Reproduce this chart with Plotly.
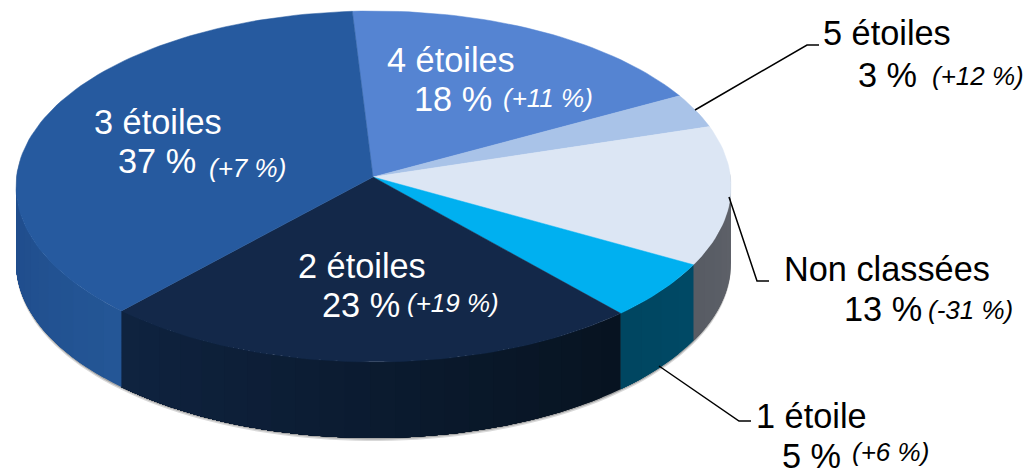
import math
import plotly.graph_objects as go

names = ["4 étoiles", "5 étoiles", "Non classées", "1 étoile", "2 étoiles", "3 étoiles"]
share_labels = ["18 %", "3 %", "13 %", "5 %", "23 %", "37 %"]
shares = [17.3, 3.1, 12.9, 5.5, 24.6, 36.6]
deltas = ["(+11 %)", "(+12 %)", "(-31 %)", "(+6 %)", "(+19 %)", "(+7 %)"]
top_colors = ["#5584d2", "#a9c3e8", "#dce6f4", "#00b0f0", "#132849", "#265a9f"]
side_from = ["#5584d2", "#a9c3e8", "#5f6269", "#004a66", "#071320", "#245696"]
side_to = ["#5584d2", "#a9c3e8", "#575b64", "#004560", "#0f2340", "#1f4c8b"]
text_colors = ["white", "black", "black", "black", "white", "white"]
name_pos = [(387, 60), (823, 33), (784, 269), (756, 416), (298, 266), (94, 122)]
share_pos = [(414, 99), (858, 75), (844, 309), (782, 456), (322, 305), (118, 161)]
delta_pos = [(503, 98), (932, 76), (928, 310), (852, 452), (407, 303), (209, 168)]
leaders = [None,
           [(695, 110), (807, 45), (819, 45)],
           [(729, 197), (757, 281), (769, 281)],
           [(659, 366), (739, 421), (751, 421)],
           None, None]

CX, CY, RX, RY, DEPTH, START = 373.5, 186.5, 357.5, 175.5, 76, -3.4
APEX = (373, 177)


def pt(a, dy=0):
    r = math.radians(a)
    return CX + RX * math.sin(r), CY - RY * math.cos(r) + dy


def mix(c1, c2, t):
    a = [int(c1[i:i + 2], 16) for i in (1, 3, 5)]
    b = [int(c2[i:i + 2], 16) for i in (1, 3, 5)]
    return "#%02x%02x%02x" % tuple(round(p + (q - p) * t) for p, q in zip(a, b))


fig = go.Figure()
total = sum(shares)
spans = []
a = START
for s in shares:
    spans.append((a, a + s / total * 360))
    a += s / total * 360

# soft shadow below the rim
sh = [pt(t) for t in range(85, 280, 2)]
for off, col in [(3, "#d9d9d9"), (1.5, "#a8a8a8")]:
    xs = [p[0] for p in sh] + [p[0] for p in reversed(sh)]
    ys = [p[1] + DEPTH + off for p in sh] + [p[1] for p in reversed(sh)]
    fig.add_trace(go.Scatter(x=xs, y=ys, fill="toself", fillcolor=col, mode="none", hoverinfo="skip"))

# side wall strips: each strip runs to the end of its slice so the next one paints over it, leaving no seams
for i, (a0, a1) in enumerate(spans):
    lo, hi = max(a0, 90), min(a1, 270)
    if hi <= lo:
        continue
    n = max(1, int((hi - lo) / 4))
    for k in range(n):
        t0 = lo + (hi - lo) * k / n
        m = max(2, int((hi - t0) / 2))
        angs = [t0 + (hi - t0) * j / m for j in range(m + 1)]
        up = [pt(t) for t in angs]
        dn = [pt(t, DEPTH) for t in reversed(angs)]
        poly = up + dn
        fig.add_trace(go.Scatter(x=[p[0] for p in poly], y=[p[1] for p in poly], fill="toself",
                                 fillcolor=mix(side_from[i], side_to[i], (k + .5) / n),
                                 mode="none", hoverinfo="skip"))

# top slices
for i, (a0, a1) in enumerate(spans):
    n = max(4, int((a1 - a0) / 1.5))
    arc = [pt(a0 + (a1 - a0) * k / n) for k in range(n + 1)]
    poly = [APEX] + arc + [APEX]
    fig.add_trace(go.Scatter(x=[p[0] for p in poly], y=[p[1] for p in poly], fill="toself",
                             fillcolor=top_colors[i], mode="lines", line=dict(color=top_colors[i], width=0.5),
                             hoverinfo="skip"))

for pts in leaders:
    if pts:
        fig.add_trace(go.Scatter(x=[p[0] for p in pts], y=[p[1] for p in pts], mode="lines",
                                 line=dict(color="black", width=1.5), hoverinfo="skip"))

FONT = "Liberation Sans, Arial, sans-serif"
for i in range(len(names)):
    for txt, pos, size, ital in [(names[i], name_pos[i], 34.3, False),
                                 (share_labels[i], share_pos[i], 34.3, False),
                                 (deltas[i], delta_pos[i], 26, True)]:
        t = f"<i>{txt}</i>" if ital else txt
        fig.add_annotation(x=pos[0], y=pos[1], text=t, showarrow=False, xanchor="left", yanchor="middle",
                           xref="x", yref="y", borderpad=0, borderwidth=0,
                           font=dict(family=FONT, size=size, color=text_colors[i]))

fig.update_layout(width=1027, height=469, margin=dict(l=0, r=0, t=0, b=0), showlegend=False,
                  paper_bgcolor="white", plot_bgcolor="white",
                  xaxis=dict(range=[0, 1027], visible=False, fixedrange=True),
                  yaxis=dict(range=[469, 0], visible=False, fixedrange=True))
fig.write_html("out.html", config={"displayModeBar": False},
               post_script="document.body.style.margin='0';document.body.style.overflow='hidden';")
